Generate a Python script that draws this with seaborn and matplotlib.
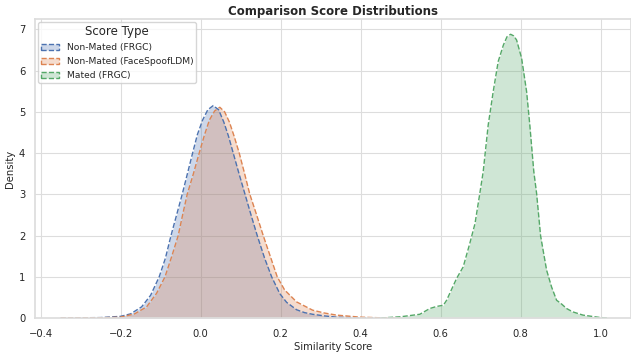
import matplotlib
matplotlib.use("Agg")
import matplotlib.pyplot as plt
from matplotlib.patches import Patch
import seaborn as sns
import pandas as pd

# Density curves
frgc_x = [-0.35, -0.25, -0.2, -0.175, -0.1475, -0.125, -0.1035, -0.088, -0.074, -0.06, -0.046,
          -0.033, -0.02, -0.008, 0.005, 0.018, 0.0315, 0.045, 0.058, 0.07, 0.0815, 0.096,
          0.111, 0.126, 0.1415, 0.16, 0.1775, 0.198, 0.215, 0.24, 0.26, 0.28, 0.31, 0.34, 0.4, 0.45]
frgc_y = [0.0, 0.01, 0.04, 0.1, 0.27, 0.55, 1.0, 1.45, 2.0, 2.5, 3.0,
          3.5, 4.0, 4.45, 4.8, 5.05, 5.15, 5.05, 4.75, 4.4, 4.0, 3.5,
          3.0, 2.5, 2.0, 1.45, 1.0, 0.59, 0.38, 0.2, 0.13, 0.09, 0.05, 0.02, 0.005, 0.0]

spoof_x = [-0.35, -0.25, -0.2, -0.165, -0.135, -0.11, -0.089, -0.072, -0.056, -0.045, -0.0335,
           -0.018, -0.0035, 0.01, 0.022, 0.035, 0.048, 0.06, 0.072, 0.084, 0.0965, 0.11,
           0.123, 0.14, 0.1565, 0.174, 0.1915, 0.21, 0.24, 0.28, 0.31, 0.34, 0.4, 0.45, 0.5]
spoof_y = [0.0, 0.005, 0.02, 0.1, 0.27, 0.6, 1.0, 1.5, 2.0, 2.5, 3.0,
           3.5, 4.0, 4.45, 4.8, 5.02, 5.11, 5.0, 4.75, 4.4, 4.0, 3.5,
           3.0, 2.5, 2.0, 1.5, 1.0, 0.68, 0.39, 0.19, 0.12, 0.07, 0.02, 0.005, 0.0]

mated_x = [0.45, 0.5, 0.548, 0.573, 0.59, 0.607, 0.615, 0.64, 0.6565, 0.673, 0.686, 0.698,
           0.7065, 0.719, 0.7315, 0.744, 0.757, 0.766, 0.775, 0.783, 0.79, 0.8025, 0.815,
           0.823, 0.833, 0.84, 0.85, 0.865, 0.8775, 0.89, 0.9, 0.915, 0.93, 0.956, 0.985, 1.0, 1.02]
mated_y = [0.0, 0.03, 0.09, 0.23, 0.28, 0.31, 0.43, 0.96, 1.24, 1.81, 2.29, 3.02,
           3.55, 4.68, 5.49, 6.22, 6.62, 6.82, 6.88, 6.84, 6.74, 6.30, 5.49,
           4.68, 3.55, 3.02, 1.99, 1.16, 0.75, 0.43, 0.36, 0.23, 0.15, 0.07, 0.03, 0.01, 0.0]

labels = ["Non-Mated (FRGC)", "Non-Mated (FaceSpoofLDM)", "Mated (FRGC)"]

frames = []
for lab, xs, ys in zip(labels, [frgc_x, spoof_x, mated_x], [frgc_y, spoof_y, mated_y]):
    frames.append(pd.DataFrame({"Similarity Score": xs, "Density": ys, "Score Type": lab}))
df = pd.concat(frames, ignore_index=True)

sns.set_theme(style="whitegrid", rc={"grid.color": "#dddddd", "grid.linewidth": 0.8,
                                     "axes.edgecolor": "#dddddd"})
palette = sns.color_palette("deep", 3)
colors = dict(zip(labels, palette))

fig = plt.figure(figsize=(6.31, 3.52), dpi=100)
ax = fig.add_axes([0.0555, 0.0966, 0.9445, 0.8494])

sns.lineplot(data=df, x="Similarity Score", y="Density", hue="Score Type",
             palette=colors, linestyle="--", linewidth=1.0, legend=False, ax=ax,
             estimator=None, sort=False)
for lab in labels:
    sub = df[df["Score Type"] == lab]
    ax.fill_between(sub["Similarity Score"], sub["Density"], 0,
                    color=colors[lab], alpha=0.28, linewidth=0)

ax.set_xlim(-0.414, 1.076)
ax.set_ylim(0, 7.25)
ax.set_xticks([-0.4, -0.2, 0.0, 0.2, 0.4, 0.6, 0.8, 1.0])
ax.set_xticklabels(["\u22120.4", "\u22120.2", "0.0", "0.2", "0.4", "0.6", "0.8", "1.0"])
ax.tick_params(labelsize=7.2, pad=2)
ax.tick_params(axis="y", pad=1)
ax.set_xlabel("Similarity Score", fontsize=7.2, labelpad=2)
ax.set_ylabel("Density", fontsize=7.2, labelpad=3)
ax.set_title("Comparison Score Distributions", fontsize=8.5, fontweight="bold", pad=3)

handles = [Patch(facecolor=(*colors[l], 0.28), edgecolor=colors[l], linestyle="--", linewidth=1.0)
           for l in labels]
leg = ax.legend(handles, labels, title="Score Type", loc="upper left", fontsize=6.6,
                title_fontsize=8.5, frameon=True, borderaxespad=0.35, handlelength=2.0,
                labelspacing=0.55, borderpad=0.3)
fig.savefig("out.png", dpi=100)
